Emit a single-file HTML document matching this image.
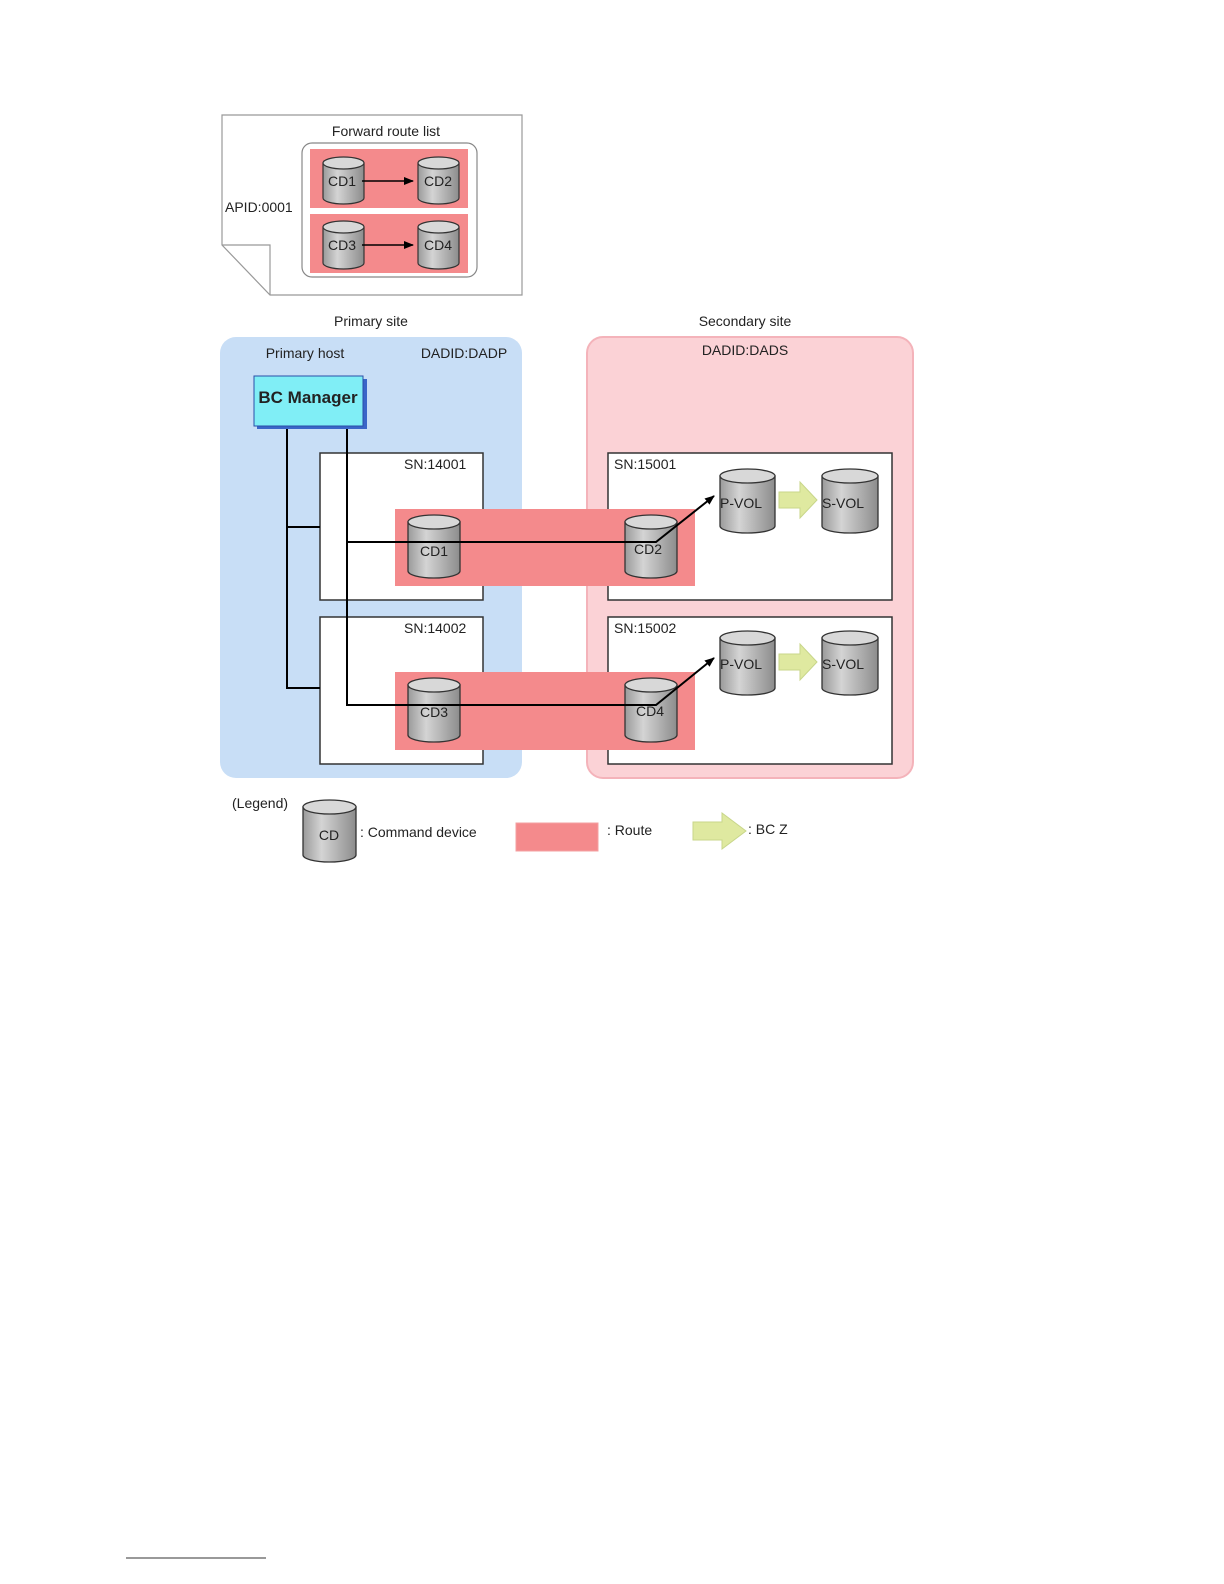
<!DOCTYPE html>
<html><head><meta charset="utf-8"><style>
html,body{margin:0;padding:0;background:#fff;}
svg{display:block;}
text{font-family:"Liberation Sans",sans-serif;fill:#222;}
</style></head><body>
<svg width="1224" height="1584" viewBox="0 0 1224 1584" xmlns="http://www.w3.org/2000/svg">
<defs>
<linearGradient id="cg" x1="0" x2="1" y1="0" y2="0">
<stop offset="0" stop-color="#9a9a9a"/><stop offset="0.35" stop-color="#d4d4d4"/><stop offset="1" stop-color="#8c8c8c"/>
</linearGradient>
<marker id="ah" markerWidth="10" markerHeight="8" refX="9" refY="4" orient="auto" markerUnits="userSpaceOnUse">
<path d="M0,0 L10,4 L0,8 Z" fill="#000"/></marker>
</defs>

<!-- forward route list document -->
<path d="M222,115 H522 V295 H270 L222,245 Z" fill="#fff" stroke="#999" stroke-width="1.2"/>
<path d="M222,245 H270 V295" fill="none" stroke="#999" stroke-width="1.2"/>
<text x="386" y="136" font-size="14" text-anchor="middle">Forward route list</text>
<text x="225" y="212" font-size="14">APID:0001</text>
<rect x="302" y="143" width="175" height="134" rx="10" fill="#fff" stroke="#888" stroke-width="1.2"/>
<rect x="310" y="149" width="158" height="59" fill="#f48a8c"/>
<rect x="310" y="214" width="158" height="59" fill="#f48a8c"/>

<g stroke="#333" stroke-width="1.2" fill="url(#cg)">
<path d="M323,163 V198 A20.5,6 0 0 0 364,198 V163 Z"/><ellipse cx="343.5" cy="163" rx="20.5" ry="6" fill="#d8d8d8"/>
<path d="M418,163 V198 A20.5,6 0 0 0 459,198 V163 Z"/><ellipse cx="438.5" cy="163" rx="20.5" ry="6" fill="#d8d8d8"/>
<path d="M323,227 V263 A20.5,6 0 0 0 364,263 V227 Z"/><ellipse cx="343.5" cy="227" rx="20.5" ry="6" fill="#d8d8d8"/>
<path d="M418,227 V263 A20.5,6 0 0 0 459,263 V227 Z"/><ellipse cx="438.5" cy="227" rx="20.5" ry="6" fill="#d8d8d8"/>
</g>
<line x1="362" y1="181" x2="413" y2="181" stroke="#000" stroke-width="1.5" marker-end="url(#ah)"/>
<line x1="362" y1="245" x2="413" y2="245" stroke="#000" stroke-width="1.5" marker-end="url(#ah)"/>
<g font-size="14" text-anchor="middle">
<text x="342" y="186">CD1</text><text x="438" y="186">CD2</text>
<text x="342" y="250">CD3</text><text x="438" y="250">CD4</text>
</g>

<!-- sites -->
<text x="371" y="326" font-size="14" text-anchor="middle">Primary site</text>
<text x="745" y="326" font-size="14" text-anchor="middle">Secondary site</text>
<rect x="220" y="337" width="302" height="441" rx="16" fill="#c8def6"/>
<rect x="587" y="337" width="326" height="441" rx="16" fill="#fbd2d6" stroke="#f4b3ba" stroke-width="2"/>
<text x="305" y="358" font-size="14" text-anchor="middle">Primary host</text>
<text x="464" y="358" font-size="14" text-anchor="middle">DADID:DADP</text>
<text x="745" y="355" font-size="14" text-anchor="middle">DADID:DADS</text>

<!-- BC Manager -->
<rect x="257" y="379" width="110" height="50" fill="#3a66c8"/>
<rect x="254" y="376" width="109" height="50" fill="#80eef6" stroke="#2a4ea8" stroke-width="1"/>
<text x="308" y="403" font-size="17" font-weight="bold" text-anchor="middle" fill="#111">BC Manager</text>

<!-- storage boxes -->
<g fill="#fff" stroke="#333" stroke-width="1.5">
<rect x="320" y="453" width="163" height="147"/>
<rect x="320" y="617" width="163" height="147"/>
<rect x="608" y="453" width="284" height="147"/>
<rect x="608" y="617" width="284" height="147"/>
</g>
<g font-size="14">
<text x="404" y="469">SN:14001</text><text x="404" y="633">SN:14002</text>
<text x="614" y="469">SN:15001</text><text x="614" y="633">SN:15002</text>
</g>
<rect x="395" y="509" width="300" height="77" fill="#f48a8c"/>
<rect x="395" y="672" width="300" height="78" fill="#f48a8c"/>

<!-- cylinders -->
<g stroke="#333" stroke-width="1.3" fill="url(#cg)">
<path d="M408,522 V571 A26,7 0 0 0 460,571 V522 Z"/><ellipse cx="434" cy="522" rx="26" ry="7" fill="#d8d8d8"/>
<path d="M625,522 V571 A26,7 0 0 0 677,571 V522 Z"/><ellipse cx="651" cy="522" rx="26" ry="7" fill="#d8d8d8"/>
<path d="M408,685 V735 A26,7 0 0 0 460,735 V685 Z"/><ellipse cx="434" cy="685" rx="26" ry="7" fill="#d8d8d8"/>
<path d="M625,685 V735 A26,7 0 0 0 677,735 V685 Z"/><ellipse cx="651" cy="685" rx="26" ry="7" fill="#d8d8d8"/>
<path d="M720,476 V526 A27.5,7 0 0 0 775,526 V476 Z"/><ellipse cx="747.5" cy="476" rx="27.5" ry="7" fill="#d8d8d8"/>
<path d="M822,476 V526 A28,7 0 0 0 878,526 V476 Z"/><ellipse cx="850" cy="476" rx="28" ry="7" fill="#d8d8d8"/>
<path d="M720,638 V688 A27.5,7 0 0 0 775,688 V638 Z"/><ellipse cx="747.5" cy="638" rx="27.5" ry="7" fill="#d8d8d8"/>
<path d="M822,638 V688 A28,7 0 0 0 878,688 V638 Z"/><ellipse cx="850" cy="638" rx="28" ry="7" fill="#d8d8d8"/>
<path d="M303,807 V855 A26.5,7 0 0 0 356,855 V807 Z"/><ellipse cx="329.5" cy="807" rx="26.5" ry="7" fill="#d8d8d8"/>
</g>

<!-- green arrows -->
<g fill="#dfe9a0" stroke="#c8d68a" stroke-width="1">
<path d="M779,492 H800 V482 L817,500 L800,518 V508 H779 Z"/>
<path d="M779,654 H800 V644 L817,662 L800,680 V670 H779 Z"/>
<path d="M693,822 H722 V813 L746,831 L722,849 V840 H693 Z"/>
</g>

<!-- connectors -->
<g stroke="#000" stroke-width="2" fill="none">
<path d="M287,429 V688 H320"/>
<path d="M287,527 H320"/>
<path d="M347,429 V705 H656 L714,658" stroke-width="2" marker-end="url(#ah)"/>
<path d="M347,542 H656 L714,496" marker-end="url(#ah)"/>
</g>

<g font-size="14" text-anchor="middle">
<text x="434" y="556">CD1</text><text x="648" y="554">CD2</text>
<text x="434" y="717">CD3</text><text x="650" y="716">CD4</text>
<text x="741" y="508">P-VOL</text><text x="843" y="508">S-VOL</text>
<text x="741" y="669">P-VOL</text><text x="843" y="669">S-VOL</text>
</g>

<!-- legend -->
<text x="232" y="808" font-size="14">(Legend)</text>
<text x="329" y="840" font-size="14" text-anchor="middle">CD</text>
<text x="360" y="837" font-size="14">: Command device</text>
<rect x="516" y="823" width="82" height="28" fill="#f48a8c" stroke="#f3a0a2"/>
<text x="607" y="835" font-size="14">: Route</text>
<text x="748" y="834" font-size="14">: BC Z</text>

<line x1="126" y1="1558" x2="266" y2="1558" stroke="#333" stroke-width="1"/>
</svg>
</body></html>
